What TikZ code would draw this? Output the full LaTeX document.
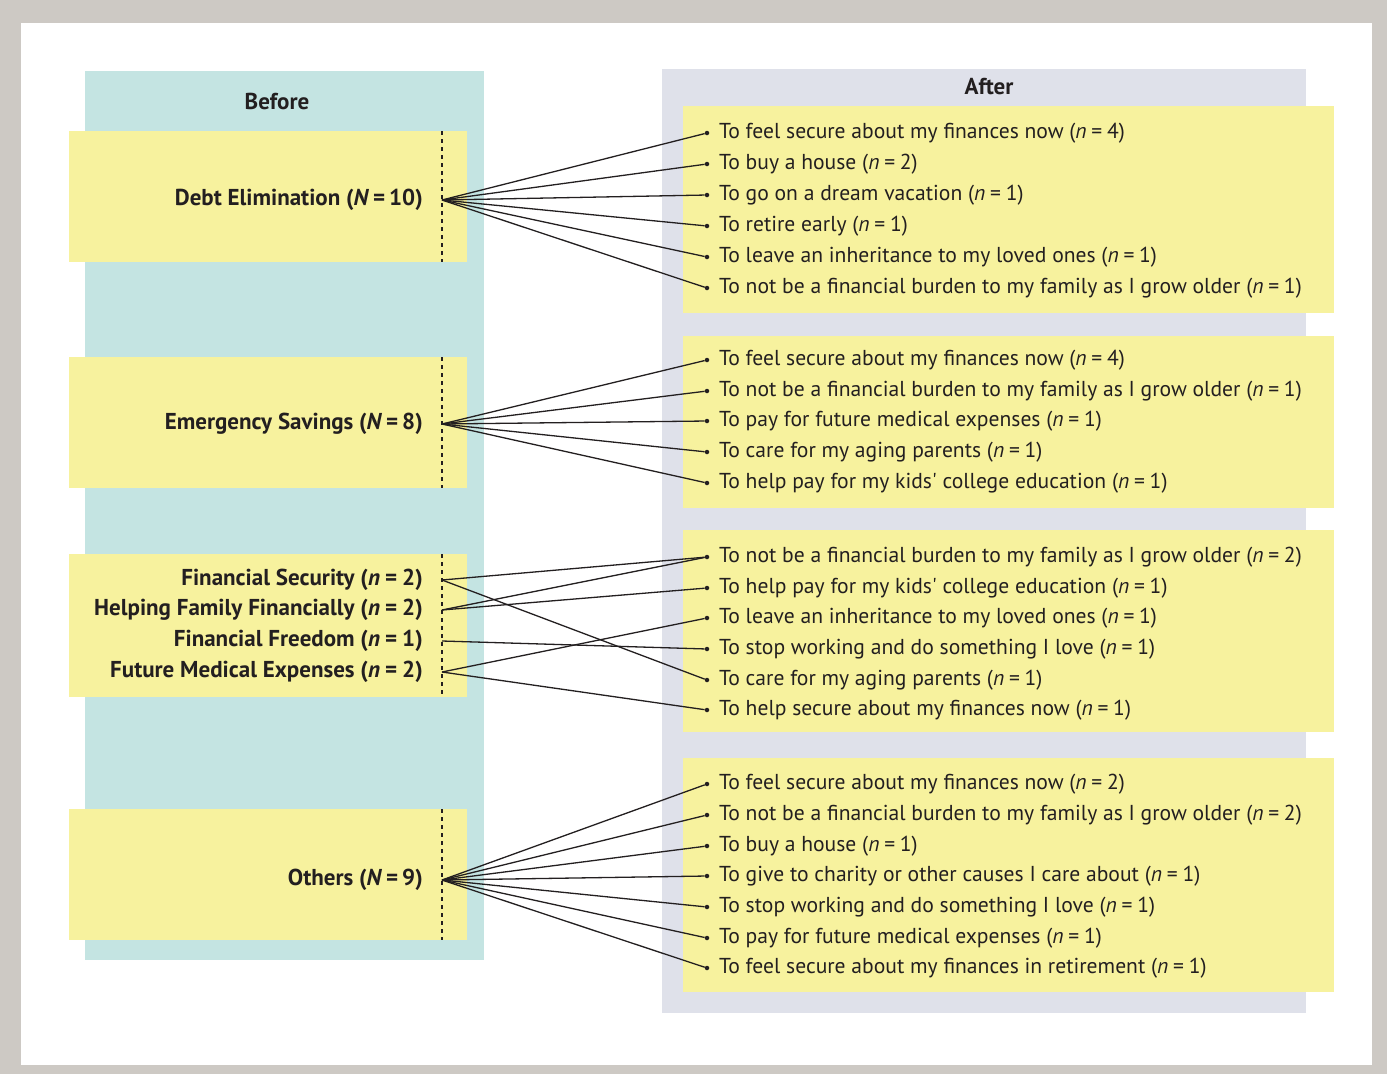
\documentclass[tikz,border=0pt]{standalone}
\usepackage{fontspec}
\setmainfont{PT Sans}
\usetikzlibrary{positioning}
\definecolor{FrameGrey}{HTML}{CDC9C4}
\definecolor{BeforeTeal}{HTML}{C4E4E2}
\definecolor{AfterGrey}{HTML}{DFE1EA}
\definecolor{NoteYellow}{HTML}{F7F29E}
\definecolor{Ink}{HTML}{231F20}
\newcommand{\labelsize}{\fontsize{21.6}{25}\selectfont}
\newcommand{\boldsize}{\fontsize{23}{27}\selectfont}
\newcommand{\nn}[1]{(\textit{n}\hspace{0.22em}=\hspace{0.22em}#1)}
\newcommand{\NN}[1]{(\textit{N}\hspace{0.17em}=\hspace{0.17em}#1)}

\begin{document}
\begin{tikzpicture}[x=1pt, y=-1pt,
    item/.style={anchor=west,inner sep=0pt,text=Ink,font=\labelsize},
    reason/.style={anchor=east,inner sep=0pt,text=Ink,font=\boldsize\bfseries},
    heading/.style={inner sep=0pt,text=Ink,font=\boldsize\bfseries},
    dot/.style={circle,fill=Ink,inner sep=0pt,minimum size=4.5pt},
    link/.style={draw=Ink,line width=1.3pt},
    split/.style={draw=Ink,dash pattern=on 4pt off 4pt,line width=1.1pt}]
    % frame and panels
    \fill[FrameGrey] (0,0) rectangle (1387,1074);
    \fill[white] (21,23) rectangle (1372,1065);
    \fill[BeforeTeal] (85,71) rectangle (484,960);
    \fill[AfterGrey] (662,69) rectangle (1306,1013);
    \node[heading] (before) at (277,101) {Before};
    \node[heading] (after) at (989,87) {After};
    % yellow boxes
    \foreach \t/\b in {131/262,357/488,554/697,809/940}{
      \fill[NoteYellow] (69,\t) rectangle (467,\b);
      \draw[split] (442,\t) -- (442,\b);
    }
    \foreach \t/\b in {106/313,336/508,530/732,758/992}{
      \fill[NoteYellow] (683,\t) rectangle (1334,\b);
    }

    % debt elimination
    \node[reason] (debt) at (423,200) {Debt Elimination \NN{10}};
    \coordinate[right=19pt of debt] (f1);
    \foreach \y/\t [count=\i] in {
      133/{To feel secure about my finances now \nn{4}},
      164/{To buy a house \nn{2}},
      195/{To go on a dream vacation \nn{1}},
      226/{To retire early \nn{1}},
      257/{To leave an inheritance to my loved ones \nn{1}},
      288/{To not be a financial burden to my family as I grow older \nn{1}}}{
      \node[dot] (a\i) at (707,\y) {};
      \node[item,right=9.5pt of a\i] {\t};
      \draw[link] (f1) -- (a\i);
    }

    % emergency savings
    \node[reason] (savings) at (423,424) {Emergency Savings \NN{8}};
    \coordinate[right=19pt of savings] (f2);
    \foreach \y/\t [count=\i] in {
      360/{To feel secure about my finances now \nn{4}},
      391/{To not be a financial burden to my family as I grow older \nn{1}},
      421/{To pay for future medical expenses \nn{1}},
      452/{To care for my aging parents \nn{1}},
      483/{To help pay for my kids\textquotesingle\ college education \nn{1}}}{
      \node[dot] (b\i) at (707,\y) {};
      \node[item,right=9.5pt of b\i] {\t};
      \draw[link] (f2) -- (b\i);
    }

    % smaller reasons
    \foreach \y/\t [count=\i] in {
      580/{Financial Security \nn{2}},
      610/{Helping Family Financially \nn{2}},
      641/{Financial Freedom \nn{1}},
      672/{Future Medical Expenses \nn{2}}}{
      \node[reason] (r\i) at (423,\y) {\t};
      \coordinate[right=19pt of r\i] (s\i);
    }
    \foreach \y/\t [count=\i] in {
      557/{To not be a financial burden to my family as I grow older \nn{2}},
      588/{To help pay for my kids\textquotesingle\ college education \nn{1}},
      618/{To leave an inheritance to my loved ones \nn{1}},
      649/{To stop working and do something I love \nn{1}},
      680/{To care for my aging parents \nn{1}},
      710/{To help secure about my finances now \nn{1}}}{
      \node[dot] (c\i) at (707,\y) {};
      \node[item,right=9.5pt of c\i] {\t};
    }
    \foreach \p/\q in {s1/c1,s1/c5,s2/c1,s2/c2,s3/c4,s4/c3,s4/c6}{
      \draw[link] (\p) -- (\q);
    }

    % others
    \node[reason] (others) at (423,880) {Others \NN{9}};
    \coordinate[right=19pt of others] (f4);
    \foreach \y/\t [count=\i] in {
      784/{To feel secure about my finances now \nn{2}},
      815/{To not be a financial burden to my family as I grow older \nn{2}},
      846/{To buy a house \nn{1}},
      876/{To give to charity or other causes I care about \nn{1}},
      907/{To stop working and do something I love \nn{1}},
      938/{To pay for future medical expenses \nn{1}},
      968/{To feel secure about my finances in retirement \nn{1}}}{
      \node[dot] (d\i) at (707,\y) {};
      \node[item,right=9.5pt of d\i] {\t};
      \draw[link] (f4) -- (d\i);
    }
\end{tikzpicture}
\end{document}
